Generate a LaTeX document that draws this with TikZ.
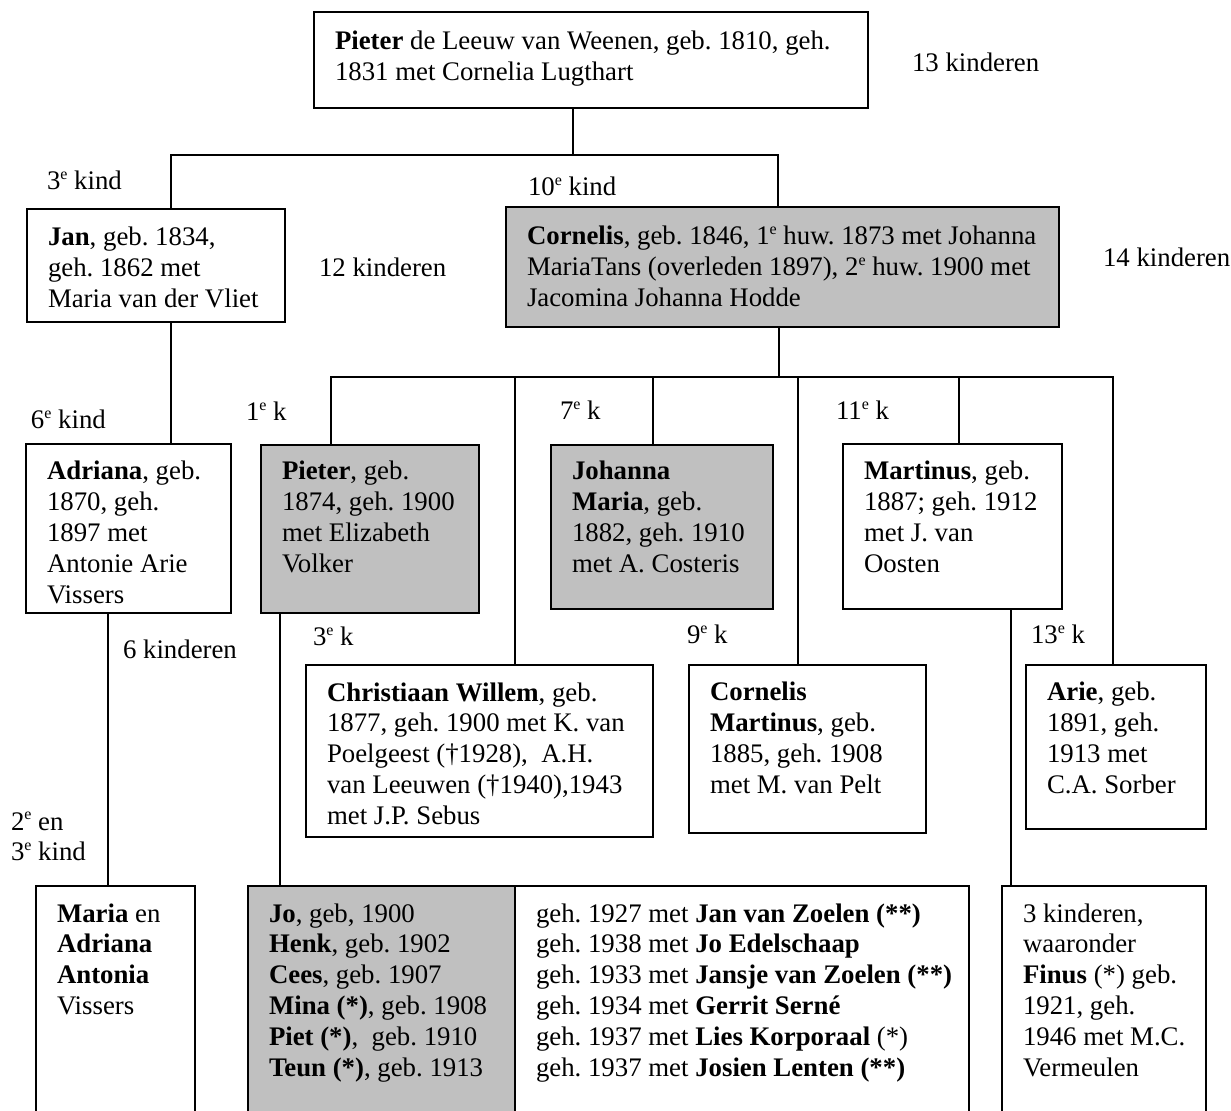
\documentclass[tikz,border=0pt]{standalone}
\usepackage{fontspec}
\setmainfont{Liberation Serif}
\frenchspacing
\definecolor{boxgray}{RGB}{192,192,192}
\newcommand\se{\raisebox{0.4em}{\fontsize{8}{8}\selectfont e}}
\tikzset{
  fam/.style={draw, line width=1pt, fill=white, anchor=north west, inner sep=0pt, outer sep=0pt},
  famg/.style={fam, fill=boxgray},
  conn/.style={line width=0.8pt},
  lbl/.style={anchor=base west, inner sep=0pt, outer sep=0pt},
}
% name, x1, y1, x2, y2, style, first-baseline offset (px), text
\newcommand\famnode[8]{%
  \node[#6] (#1) at (#2,#3) {\parbox[c][\dimexpr(#5pt-#3pt)/2\relax][t]{\dimexpr(#4pt-#2pt)/2\relax}{\frenchspacing\leftskip=10.5pt\rightskip=-200pt plus 1fil\relax\rule{0pt}{\dimexpr #7pt/2\relax}#8}};}
\begin{document}
\begin{tikzpicture}[x=0.5pt, y=-0.5pt, font=\fontsize{13.4}{15.45}\selectfont\frenchspacing]
\useasboundingbox (0,0) rectangle (1231,1111);
\clip (0,0) rectangle (1231,1111);

% boxes
\famnode{top}{314}{12}{868}{108}{fam}{38}{\textbf{Pieter} de Leeuw van Weenen, geb. 1810, geh.\\1831 met Cornelia Lugthart}
\famnode{jan}{27}{209}{285}{322}{fam}{37}{\textbf{Jan}, geb. 1834,\\geh. 1862 met\\Maria van der Vliet}
\famnode{cor}{506}{207}{1059}{327}{famg}{38}{\textbf{Cornelis}, geb. 1846, 1\se{} huw. 1873 met Johanna\\MariaTans (overleden 1897), 2\se{} huw. 1900 met\\Jacomina Johanna Hodde}
\famnode{adr}{26}{444}{231}{613}{fam}{36}{\textbf{Adriana}, geb.\\1870, geh.\\1897 met\\Antonie Arie\\Vissers}
\famnode{pie}{261}{445}{479}{613}{famg}{35}{\textbf{Pieter}, geb.\\1874, geh. 1900\\met Elizabeth\\Volker}
\famnode{joh}{551}{445}{773}{609}{famg}{35}{\textbf{Johanna}\\\textbf{Maria}, geb.\\1882, geh. 1910\\met A. Costeris}
\famnode{mar}{843}{444}{1062}{609}{fam}{36}{\textbf{Martinus}, geb.\\1887; geh. 1912\\met J. van\\Oosten}
\famnode{chr}{306}{665}{653}{837}{fam}{36}{\textbf{Christiaan Willem}, geb.\\1877, geh. 1900 met K. van\\Poelgeest (†1928),\ \ A.H.\\van Leeuwen (†1940),1943\\met J.P. Sebus}
\famnode{cma}{689}{665}{926}{833}{fam}{36}{\textbf{Cornelis}\\\textbf{Martinus}, geb.\\1885, geh. 1908\\met M. van Pelt}
\famnode{ari}{1026}{665}{1206}{829}{fam}{36}{\textbf{Arie}, geb.\\1891, geh.\\1913 met\\C.A. Sorber}
\famnode{mari}{36}{886}{195}{1140}{fam}{36}{\textbf{Maria} en\\\textbf{Adriana}\\\textbf{Antonia}\\Vissers}
\famnode{jo}{248}{886}{515}{1140}{famg}{36}{\textbf{Jo}, geb, 1900\\\textbf{Henk}, geb. 1902\\\textbf{Cees}, geb. 1907\\\textbf{Mina (*)}, geb. 1908\\\textbf{Piet (*)},\ \ geb. 1910\\\textbf{Teun (*)}, geb. 1913}
\famnode{geh}{515}{886}{969}{1140}{fam}{36}{geh. 1927 met \textbf{Jan van Zoelen (**)}\\geh. 1938 met \textbf{Jo Edelschaap}\\geh. 1933 met \textbf{Jansje van Zoelen (**)}\\geh. 1934 met \textbf{Gerrit Serné}\\geh. 1937 met \textbf{Lies Korporaal} (*)\\geh. 1937 met \textbf{Josien Lenten (**)}}
\famnode{fin}{1002}{886}{1206}{1140}{fam}{36}{3 kinderen,\\waaronder\\\textbf{Finus} (*) geb.\\1921, geh.\\1946 met M.C.\\Vermeulen}

% labels
\node[lbl] (l13) at (912,72) {13 kinderen};
\node[lbl] (l3k) at (47,190) {3\se{} kind};
\node[lbl] (l10k) at (528,196) {10\se{} kind};
\node[lbl] (l12) at (319,277) {12 kinderen};
\node[lbl] (l14) at (1103,267) {14 kinderen};
\node[lbl] (l6k) at (31,429) {6\se{} kind};
\node[lbl] (l1k) at (246,421) {1\se{} k};
\node[lbl] (l7k) at (560,420) {7\se{} k};
\node[lbl] (l11k) at (836,420) {11\se{} k};
\node[lbl] (l6) at (123,659) {6 kinderen};
\node[lbl] (l3kk) at (313,646) {3\se{} k};
\node[lbl] (l9k) at (687,644) {9\se{} k};
\node[lbl] (l13k) at (1031,644) {13\se{} k};
\node[lbl] (l23) at (11,830) {\parbox[t]{60pt}{2\se{} en\\3\se{} kind}};

% connectors
\coordinate (t1) at (573,155);
\coordinate (ja) at (171,155);
\coordinate (ca) at (778,155);
\draw[conn] (top.south -| t1) -- (t1);
\draw[conn] (jan.north -| ja) -- (ja) -- (ca) -- (cor.north -| ca);
\draw[conn] (jan.south -| ja) -- (adr.north -| ja);

\coordinate (cb) at (779,377);
\coordinate (bL) at (331,377);
\coordinate (bR) at (1113,377);
\coordinate (b2) at (515,377);
\coordinate (b3) at (653,377);
\coordinate (b4) at (798,377);
\coordinate (b5) at (959,377);
\draw[conn] (cor.south -| cb) -- (cb);
\draw[conn] (pie.north -| bL) -- (bL) -- (bR) -- (ari.north -| bR);
\draw[conn] (b2) -- (chr.north -| b2);
\draw[conn] (b3) -- (joh.north -| b3);
\draw[conn] (b4) -- (cma.north -| b4);
\draw[conn] (b5) -- (mar.north -| b5);

\coordinate (am) at (108,0);
\coordinate (pj) at (280,0);
\coordinate (mf) at (1011,0);
\draw[conn] (adr.south -| am) -- (mari.north -| am);
\draw[conn] (pie.south -| pj) -- (jo.north -| pj);
\draw[conn] (mar.south -| mf) -- (fin.north -| mf);
\end{tikzpicture}
\end{document}
